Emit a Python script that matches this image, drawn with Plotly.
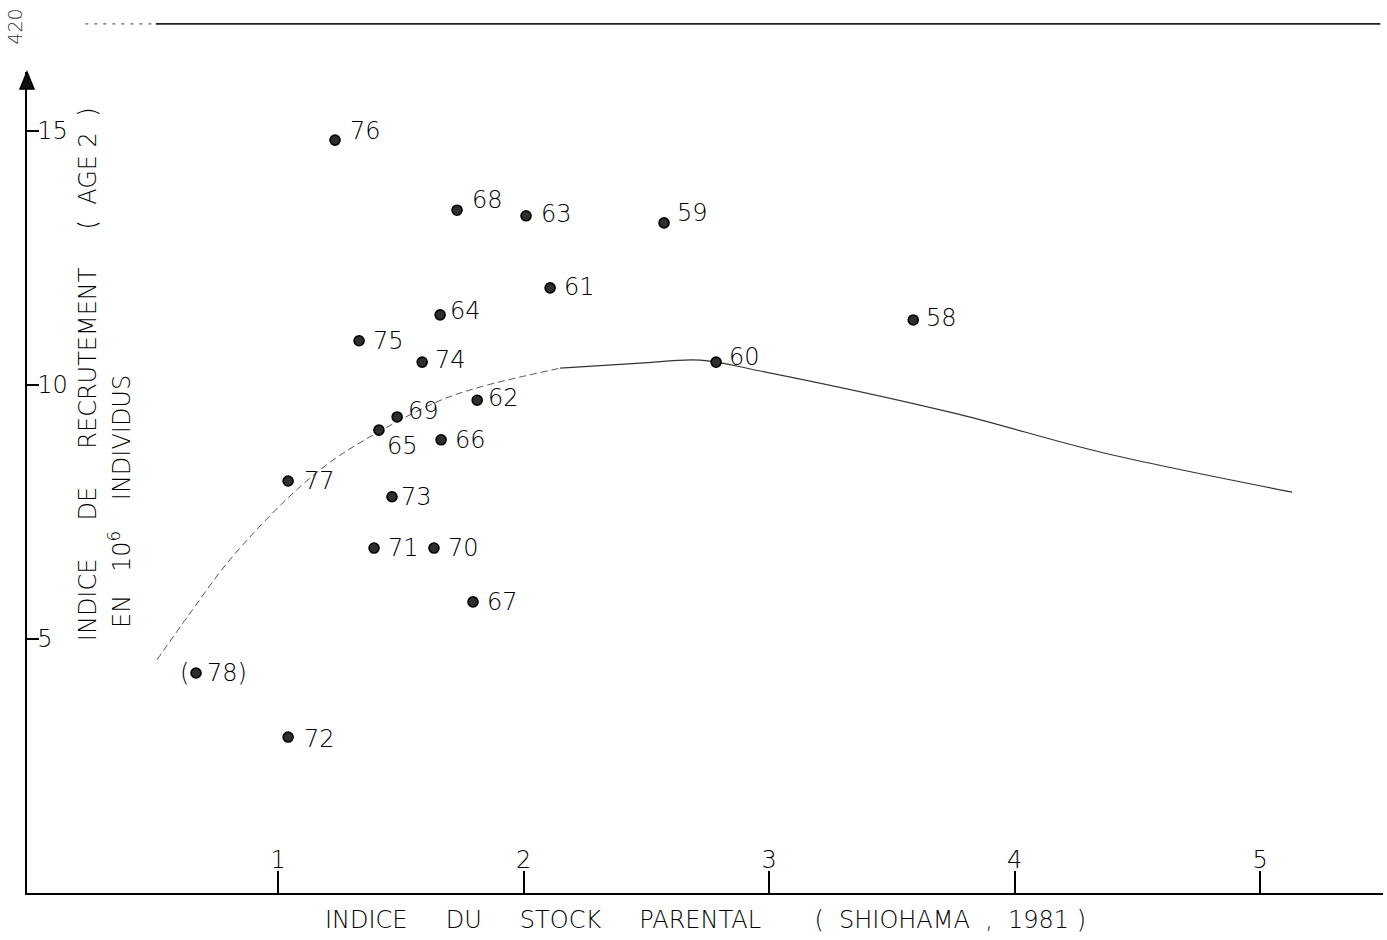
import plotly.graph_objects as go

# Stock-recruitment observations, labelled by year
years = ["76", "68", "63", "59", "61", "64", "58", "75", "74", "60", "62",
         "69", "65", "66", "77", "73", "71", "70", "67", "78", "72"]
stock = [1.232, 1.729, 2.010, 2.572, 2.108, 1.660, 3.587, 1.330, 1.587, 2.784, 1.811,
         1.485, 1.411, 1.664, 1.041, 1.464, 1.391, 1.635, 1.794, 0.666, 1.041]
recruit = [14.82, 13.44, 13.33, 13.19, 11.91, 11.38, 11.28, 10.87, 10.45, 10.45, 9.70,
           9.37, 9.11, 8.92, 8.11, 7.80, 6.79, 6.79, 5.73, 4.33, 3.07]

# Fitted recruitment curve (rising branch drawn broken, falling branch solid)
curve_rise_x = [0.507, 0.642, 0.804, 1.041, 1.212, 1.375, 1.648, 1.823, 2.149]
curve_rise_y = [4.59, 5.51, 6.56, 7.78, 8.48, 8.98, 9.67, 9.96, 10.33]
curve_fall_x = [2.149, 2.475, 2.719, 2.959, 3.749, 4.348, 5.130]
curve_fall_y = [10.33, 10.43, 10.49, 10.28, 9.45, 8.68, 7.89]

x_ticks = [1, 2, 3, 4, 5]
y_ticks = [5, 10, 15]

# label placement (pixel offsets from each point: right, up)
label_dx = [13, 13, 13, 11, 12, 8, 11, 12, 11, 11, 9, 9, 6, 12, 14, 7, 12, 12, 12, 9, 14]
label_dy = [9, 10, 2, 10, 1, 4, 2, 0, 2, 5, 2, 6, -16, 0, 0, 0, 0, 0, 0, 0, -2]

FONT = "DejaVu Sans"
INK = "#000000"
W = 200  # thin lettering

fig = go.Figure()

fig.add_trace(go.Scatter(
    x=curve_rise_x, y=curve_rise_y, mode="lines", line_shape="spline",
    line=dict(color="#555555", width=1, dash="7px,4px"), hoverinfo="skip"))
fig.add_trace(go.Scatter(
    x=curve_fall_x, y=curve_fall_y, mode="lines", line_shape="spline",
    line=dict(color="#333333", width=1.2), hoverinfo="skip"))

fig.add_trace(go.Scatter(
    x=stock, y=recruit, mode="markers",
    marker=dict(size=10, color="#2e2e2e", line=dict(color="#000000", width=1.6)),
    hoverinfo="skip"))

annotations = []
for xv, yv, yr, dx, dy in zip(stock, recruit, years, label_dx, label_dy):
    txt = yr + ")" if yr == "78" else yr
    annotations.append(dict(
        x=xv, y=yv, xref="x", yref="y", text=txt, showarrow=False,
        xanchor="left", yanchor="middle", xshift=dx, yshift=dy,
        font=dict(family=FONT, size=24, color=INK, weight=W)))
    if yr == "78":
        annotations.append(dict(
            x=xv, y=yv, xref="x", yref="y", text="(", showarrow=False,
            xanchor="right", yanchor="middle", xshift=-5, yshift=0,
            font=dict(family=FONT, size=24, color=INK, weight=W)))

nb = "\u00a0"
gap = nb * 5
annotations += [
    dict(x=0.045, y=0.632, xref="paper", yref="paper", textangle=-90,
         text=f"INDICE{gap}DE{gap}RECRUTEMENT{gap}({nb*2}AGE{nb}2{nb*2})",
         showarrow=False, xanchor="center", yanchor="middle",
         font=dict(family=FONT, size=24, color=INK, weight=W)),
    dict(x=0.069, y=0.477, xref="paper", yref="paper", textangle=-90,
         text=f"EN{nb*3}10<sup>6</sup>{nb*4}INDIVIDUS",
         showarrow=False, xanchor="center", yanchor="middle",
         font=dict(family=FONT, size=24, color=INK, weight=W)),
    dict(x=0.5, y=-0.033, xref="paper", yref="paper",
         text=f"INDICE{gap}DU{gap}STOCK{gap}PARENTAL{nb*7}({nb*2}SHIOHAMA{nb*2},{nb*2}1981{nb})",
         showarrow=False, xanchor="center", yanchor="middle",
         font=dict(family=FONT, size=24, color=INK, weight=W)),
    dict(x=-0.009, y=1.055, xref="paper", yref="paper", textangle=-90,
         text="420", showarrow=False, xanchor="center", yanchor="middle",
         font=dict(family=FONT, size=19, color="#333333", weight=W)),
]

fig.update_layout(
    width=1387, height=940,
    margin=dict(l=27, r=4, t=72, b=47),
    paper_bgcolor="white", plot_bgcolor="white",
    showlegend=False,
    annotations=annotations,
    shapes=[
        # page rule across the top
        dict(type="line", xref="paper", yref="paper", x0=0.043, x1=0.095,
             y0=1.0585, y1=1.0585, line=dict(color="#666666", width=1.2, dash="3px,6px")),
        dict(type="line", xref="paper", yref="paper", x0=0.095, x1=0.998,
             y0=1.0585, y1=1.0585, line=dict(color="#222222", width=1.8)),
        # arrowhead closing the vertical axis
        dict(type="path", xref="paper", yref="paper", xsizemode="pixel", ysizemode="pixel",
             xanchor=0, yanchor=1, path="M-7,-17 L0,0 L7,-17 Z",
             fillcolor="#111111", line=dict(color="#000000", width=1.5)),
    ],
    xaxis=dict(
        range=[-0.0224, 5.5], showgrid=False, zeroline=False,
        showline=True, linecolor=INK, linewidth=2.2,
        tickmode="array", tickvals=x_ticks, ticktext=[str(v) for v in x_ticks],
        ticks="inside", ticklen=22, tickwidth=1.5, tickcolor=INK,
        ticklabelposition="inside",
        tickfont=dict(family=FONT, size=24, color=INK, weight=W),
    ),
    yaxis=dict(
        range=[0, 16.16], showgrid=False, zeroline=False,
        showline=True, linecolor=INK, linewidth=2.2,
        tickmode="array", tickvals=y_ticks, ticktext=[str(v) for v in y_ticks],
        ticks="inside", ticklen=12, tickwidth=1.5, tickcolor=INK,
        ticklabelposition="inside",
        tickfont=dict(family=FONT, size=24, color=INK, weight=W),
    ),
)

fig.write_html("out.html")
